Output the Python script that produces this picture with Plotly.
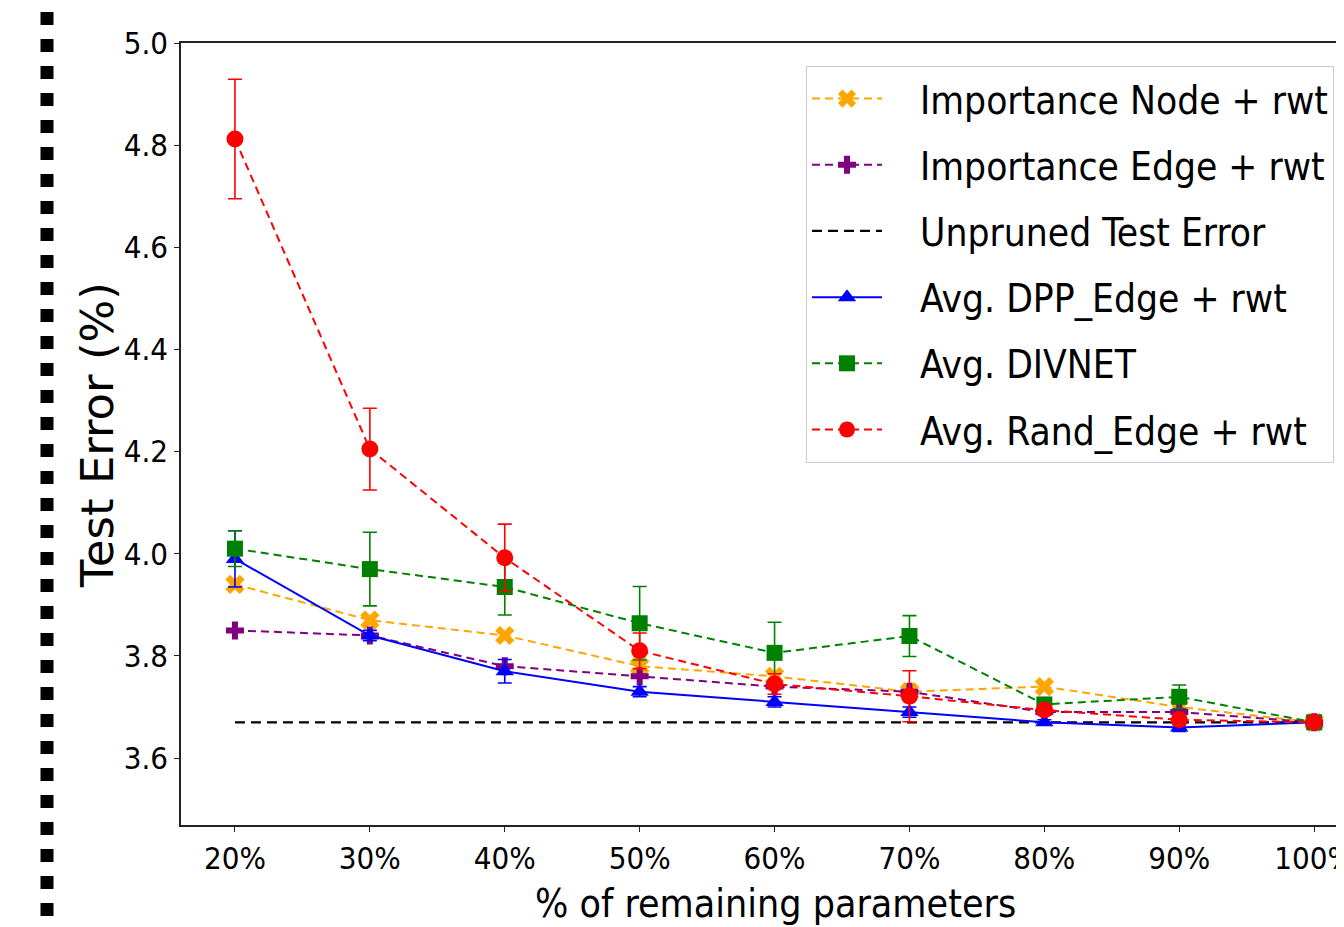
import plotly.graph_objects as go

# ---- data ----
x_vals = [20, 30, 40, 50, 60, 70, 80, 90, 100]
x_labels = ["20%", "30%", "40%", "50%", "60%", "70%", "80%", "90%", "100%"]

imp_node = [3.94, 3.87, 3.84, 3.78, 3.76, 3.73, 3.74, 3.70, 3.67]
imp_edge = [3.85, 3.84, 3.78, 3.76, 3.74, 3.73, 3.69, 3.69, 3.67]
unpruned = 3.67
dpp = [3.99, 3.84, 3.77, 3.73, 3.71, 3.69, 3.67, 3.66, 3.67]
dpp_err = [0.055, 0.01, 0.023, 0.01, 0.01, 0.01, 0.005, 0.008, 0.005]
divnet = [4.01, 3.97, 3.935, 3.864, 3.806, 3.839, 3.705, 3.72, 3.67]
divnet_err = [0.035, 0.072, 0.055, 0.072, 0.06, 0.04, 0.01, 0.023, 0.005]
rand = [4.812, 4.205, 3.992, 3.81, 3.745, 3.721, 3.694, 3.675, 3.67]
rand_err = [0.117, 0.08, 0.066, 0.035, 0.02, 0.05, 0.01, 0.01, 0.005]

y_ticks = [3.6, 3.8, 4.0, 4.2, 4.4, 4.6, 4.8, 5.0]

FONT = "DejaVu Sans"
CFONT = "DejaVu Sans Condensed, DejaVu Sans"
OFF = 8  # page body margin
W, H = 1344 - OFF, 927 - OFF
# plot area in page pixels: left 181, top 43, bottom 825, right = window edge
ML, MT = 181 - OFF, 43 - OFF
MB = H - (825 - OFF)
MR = 0
plot_w = W - ML - MR
plot_h = H - MT - MB

def px_x(px):  # page px -> paper x
    return (px - OFF - ML) / plot_w

def px_y(py):  # page px -> paper y
    return (H - MB - (py - OFF)) / plot_h

PAD = "\u00a0\u00a0\u00a0"

fig = go.Figure()

def add(name, y, color, symbol, dash, err=None, size=16):
    kw = {}
    if err is not None:
        kw["error_y"] = dict(type="data", array=err, visible=True, color=color,
                             thickness=1.6, width=7)
    fig.add_trace(go.Scatter(
        x=x_vals, y=y, name=PAD + name, mode="lines+markers",
        line=dict(color=color, width=2, dash=dash),
        marker=dict(symbol=symbol, size=size, color=color, line=dict(width=0)),
        legendgroup=name, **kw))

add("Importance Node + rwt", imp_node, "orange", "x", "8px,5px", size=17)
add("Importance Edge + rwt", imp_edge, "purple", "cross", "8px,5px", size=15)
fig.add_trace(go.Scatter(
    x=x_vals, y=[unpruned] * len(x_vals), name=PAD + "Unpruned Test Error",
    mode="lines", line=dict(color="black", width=2.2, dash="10px,6px"),
    legendgroup="unpruned"))
add("Avg. DPP_Edge + rwt", dpp, "blue", "triangle-up", "solid", err=dpp_err, size=16)
add("Avg. DIVNET", divnet, "green", "square", "8px,5px", err=divnet_err, size=16)
add("Avg. Rand_Edge + rwt", rand, "red", "circle", "8px,5px", err=rand_err, size=17)

px_per_unit = 134.9 / 10.0
x_min = 16
x_max = x_min + plot_w / px_per_unit

fig.update_layout(
    width=W, height=H,
    margin=dict(l=ML, r=MR, t=MT, b=MB, autoexpand=False),
    paper_bgcolor="white", plot_bgcolor="white",
    font=dict(family=FONT, color="black"),
    showlegend=True,
    legend=dict(
        x=px_x(806), y=px_y(66),
        xanchor="left", yanchor="top",
        bgcolor="rgba(255,255,255,0.85)", bordercolor="#cccccc", borderwidth=1,
        font=dict(family=CFONT, size=38.6, color="black"),
        itemwidth=70, tracegroupgap=13,
    ),
    xaxis=dict(
        range=[x_min, x_max], tickmode="array", tickvals=x_vals, ticktext=x_labels,
        showgrid=False, zeroline=False, showline=True, mirror=True,
        linecolor="#222222", linewidth=1.5, ticks="outside", ticklen=5, tickwidth=1,
        tickcolor="#222222", tickfont=dict(family=CFONT, size=31),
        ticklabeloverflow="allow",
    ),
    yaxis=dict(
        range=[3.469, 5.0], tickmode="array", tickvals=y_ticks,
        ticktext=[f"{v:.1f}" for v in y_ticks],
        showgrid=False, zeroline=False, showline=True,
        linecolor="#222222", linewidth=1.5, ticks="outside", ticklen=5, tickwidth=1,
        tickcolor="#222222", tickfont=dict(family=CFONT, size=31),
    ),
)

# y-axis label
fig.add_annotation(text="Test Error (%)", xref="paper", yref="paper",
                   x=px_x(97), y=px_y(435), xanchor="center", yanchor="middle",
                   textangle=-90, showarrow=False,
                   font=dict(family=FONT, size=45, color="black"))

# x-axis label (centred on the full axes, which extend past the window)
fig.add_annotation(text="% of remaining parameters", xref="paper", yref="paper",
                   x=px_x(775), y=px_y(903), xanchor="center", yanchor="middle",
                   showarrow=False, font=dict(family=CFONT, size=39, color="black"))

# dotted black column at far left (edge of neighbouring panel)
fig.add_shape(type="line", xref="paper", yref="paper",
              x0=px_x(47), x1=px_x(47), y0=px_y(12), y1=px_y(940),
              line=dict(color="black", width=13, dash="13px,14px"))

fig.write_html("out.html")
